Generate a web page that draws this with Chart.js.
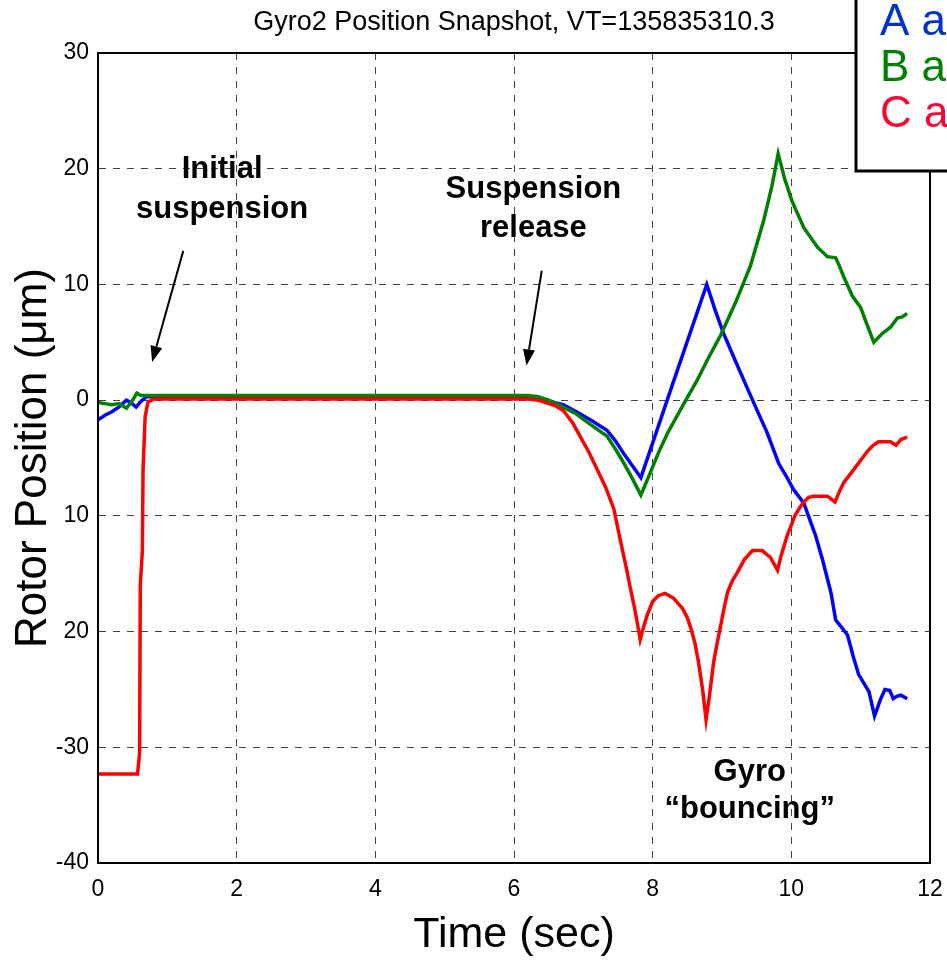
<!DOCTYPE html>
<html lang="en">
<head>
    <meta charset="UTF-8">
    <title>Gyro2 Position Snapshot</title>
    <script src="https://cdn.jsdelivr.net/npm/chart.js"></script>
    <style>
        html, body { margin: 0; padding: 0; background: #fff; }
        #wrap { width: 947px; height: 961px; }
    </style>
</head>
<body>
    <div id="wrap"><canvas id="gyroChart" width="947" height="961"></canvas></div>
    <script>
        // values (time in sec, position in um)
        var timeA = [0, 0.1, 0.2, 0.3, 0.41, 0.47, 0.55, 0.62, 0.7, 6.2, 6.35, 6.5, 6.71, 6.9, 7.1, 7.34, 7.46,
                     7.58, 7.7, 7.83, 8.3, 8.78, 8.9, 9.02, 9.2, 9.36, 9.5, 9.65, 9.82, 9.92, 10.03, 10.18,
                     10.35, 10.45, 10.57, 10.64, 10.72, 10.81, 10.9, 10.97, 11.06, 11.12, 11.2, 11.29, 11.35,
                     11.42, 11.47, 11.52, 11.58, 11.67];
        var posA  = [-1.7, -1.3, -1.0, -0.6, 0, -0.2, -0.6, -0.1, 0.3, 0.3, 0.2, -0.1, -0.4, -1.0, -1.7, -2.6, -3.5,
                     -4.6, -5.6, -6.7, 1.6, 10, 7.8, 5.8, 3.3, 1.1, -0.8, -2.8, -5.5, -6.5, -7.7, -8.9,
                     -11.7, -13.8, -16.6, -19, -19.6, -20.3, -22.3, -23.7, -24.6, -25.2, -27.3, -25.8, -25,
                     -25.1, -25.8, -25.6, -25.5, -25.8];

        var timeB = [0, 0.1, 0.2, 0.3, 0.41, 0.5, 0.56, 0.62, 6.2, 6.35, 6.5, 6.71, 6.9, 7.1, 7.34, 7.46, 7.58,
                     7.7, 7.83, 7.95, 8.08, 8.21, 8.45, 8.64, 8.8, 8.98, 9.2, 9.41, 9.6, 9.72, 9.81, 9.9, 10.01,
                     10.18, 10.38, 10.52, 10.64, 10.7, 10.76, 10.88, 11.0, 11.1, 11.19, 11.3, 11.43, 11.53,
                     11.6, 11.67];
        var posB  = [-0.2, -0.3, -0.4, -0.3, -0.7, 0, 0.6, 0.4, 0.4, 0.3, 0, -0.6, -1.2, -2.1, -3.1, -4.2, -5.4,
                     -6.7, -8.2, -6.5, -4.6, -2.9, -0.3, 1.7, 3.6, 5.6, 8.5, 11.6, 15.5, 18.5, 21.3, 19.2, 17.2,
                     14.9, 13.2, 12.4, 12.3, 11.5, 10.6, 9.0, 8.0, 6.4, 5.0, 5.7, 6.3, 7.1,
                     7.2, 7.5];

        var timeC = [0, 0.57, 0.6, 0.61, 0.64, 0.65, 0.68, 0.72, 0.8, 6.2, 6.35, 6.5, 6.6, 6.71, 6.85, 6.96,
                     7.08, 7.2, 7.32, 7.44, 7.53, 7.62, 7.68, 7.74, 7.78, 7.82, 7.86, 7.92, 8.0, 8.08, 8.18,
                     8.3, 8.43, 8.5, 8.55, 8.61, 8.66, 8.72, 8.77, 8.82, 8.88, 8.93, 8.98, 9.03, 9.08, 9.15,
                     9.22, 9.32, 9.44, 9.58, 9.7, 9.8, 9.85, 9.9, 9.94, 10.0, 10.05, 10.12, 10.18, 10.25,
                     10.32, 10.52, 10.63, 10.7, 10.76, 10.9, 11.0, 11.1, 11.18, 11.26, 11.43, 11.51, 11.58,
                     11.67];
        var posC  = [-32.3, -32.3, -30.5, -16, -13, -6, -1.4, -0.2, 0.1, 0.1, 0, -0.3, -0.5, -0.9, -2.0, -3.2,
                     -4.5, -6, -7.5, -9.4, -12, -14.5, -16.3, -18, -19.3, -20.7, -19.8, -18.6, -17.4, -16.9, -16.7,
                     -17.1, -18, -18.8, -19.7, -21, -22.6, -25, -27.6, -25.5, -22.6, -21, -19.5, -18, -16.6, -15.6,
                     -14.9, -13.8, -13.0, -13.0, -13.6, -14.7, -13.5, -12.5, -11.7, -10.8, -10, -9.3, -8.8, -8.4,
                     -8.3, -8.3, -8.8, -7.8, -7.1, -6.0, -5.2, -4.4, -3.9, -3.6, -3.6, -3.9, -3.4,
                     -3.2];

        var seriesNames = ['A a', 'B a', 'C a'];
        var yTickLabels = ['-40', '-30', '20', '10', '0', '10', '20', '30'];   // as printed on the original
        var xTicks = [0, 2, 4, 6, 8, 10, 12];

        function pts(t, v) {
            return t.map(function(x, i) { return { x: x, y: v[i] }; });
        }

        var FONT = "'Liberation Sans', Arial, Helvetica, sans-serif";

        // text notes placed in data coordinates
        var notes = [
            { lines: ['Initial', 'suspension'], x: 1.79, y: [19.9, 16.5], arrow: [1.23, 12.9, 0.78, 3.3] },
            { lines: ['Suspension', 'release'], x: 6.28, y: [18.2, 14.8], arrow: [6.40, 11.2, 6.18, 3.0] },
            { lines: ['Gyro', '\u201Cbouncing\u201D'], x: 9.4, y: [-32.2, -35.4], arrow: null }
        ];

        var decorPlugin = {
            id: 'decor',
            afterDraw: function(chart) {
                var ctx = chart.ctx, a = chart.chartArea;
                var xs = chart.scales.x, ys = chart.scales.y;
                ctx.save();
                // axes box
                ctx.strokeStyle = '#000';
                ctx.lineWidth = 2;
                ctx.strokeRect(a.left, a.top, a.right - a.left, a.bottom - a.top);

                // title
                ctx.fillStyle = '#000';
                ctx.font = '27px ' + FONT;
                ctx.textAlign = 'center';
                ctx.textBaseline = 'middle';
                ctx.fillText('Gyro2 Position Snapshot, VT=135835310.3', (a.left + a.right) / 2, 23, 525);

                // notes and arrows
                ctx.font = 'bold 31px ' + FONT;
                notes.forEach(function(n) {
                    n.lines.forEach(function(s, i) {
                        ctx.fillText(s, xs.getPixelForValue(n.x), ys.getPixelForValue(n.y[i]));
                    });
                    if (n.arrow) {
                        var x0 = xs.getPixelForValue(n.arrow[0]), y0 = ys.getPixelForValue(n.arrow[1]);
                        var x1 = xs.getPixelForValue(n.arrow[2]), y1 = ys.getPixelForValue(n.arrow[3]);
                        var ang = Math.atan2(y1 - y0, x1 - x0);
                        var hl = 16, hw = 6;
                        var bx = x1 - hl * Math.cos(ang), by = y1 - hl * Math.sin(ang);
                        ctx.lineWidth = 2;
                        ctx.beginPath();
                        ctx.moveTo(x0, y0);
                        ctx.lineTo(bx, by);
                        ctx.stroke();
                        ctx.beginPath();
                        ctx.moveTo(x1, y1);
                        ctx.lineTo(bx + hw * Math.sin(ang), by - hw * Math.cos(ang));
                        ctx.lineTo(bx - hw * Math.sin(ang), by + hw * Math.cos(ang));
                        ctx.closePath();
                        ctx.fill();
                    }
                });

                // legend box (runs off the right edge like the original)
                ctx.fillStyle = '#fff';
                ctx.fillRect(856, -5, 120, 176);
                ctx.strokeStyle = '#000';
                ctx.lineWidth = 3;
                ctx.strokeRect(856, -5, 120, 176);
                ctx.font = '44px ' + FONT;
                ctx.textAlign = 'left';
                var legendColors = ['#0033cc', '#008000', '#ff0033'];
                chart.data.datasets.forEach(function(ds, i) {
                    ctx.fillStyle = legendColors[i];
                    ctx.fillText(ds.label, 880, 23 + i * 46);
                });
                ctx.restore();
            }
        };

        var ctx = document.getElementById('gyroChart').getContext('2d');
        var gyroChart = new Chart(ctx, {
            type: 'line',
            data: {
                datasets: [
                    { label: seriesNames[0], data: pts(timeA, posA), borderColor: '#0000ff', order: 2 },
                    { label: seriesNames[1], data: pts(timeB, posB), borderColor: '#008000', order: 1 },
                    { label: seriesNames[2], data: pts(timeC, posC), borderColor: '#ff0000', order: 0 }
                ]
            },
            options: {
                responsive: false,
                animation: false,
                layout: { padding: { top: 53, right: 17, left: 0, bottom: 0 } },
                elements: {
                    line: { borderWidth: 3.5, tension: 0 },
                    point: { radius: 0 }
                },
                plugins: {
                    legend: { display: false },
                    title: { display: false },
                    tooltip: { enabled: false }
                },
                scales: {
                    x: {
                        type: 'linear',
                        min: 0,
                        max: 12,
                        afterFit: function(s) {
                            s.height = 98;
                            s.paddingLeft = 0;   // keep the plot box at a fixed width
                            s.paddingRight = 0;
                        },
                        afterBuildTicks: function(s) { s.ticks = xTicks.map(function(v) { return { value: v }; }); },
                        grid: { color: '#444', lineWidth: 1, drawTicks: false },
                        border: { color: '#000', width: 2, dash: [7, 7] },
                        ticks: { color: '#000', padding: 13, font: { family: FONT, size: 23 } },
                        title: {
                            display: true,
                            text: 'Time (sec)',
                            color: '#000',
                            font: { family: FONT, size: 43 },
                            padding: { top: 0, bottom: 0 }
                        }
                    },
                    y: {
                        min: -40,
                        max: 30,
                        afterFit: function(s) {
                            s.width = 98;
                            s.paddingTop = 0;
                            s.paddingBottom = 0;
                        },
                        grid: { color: '#444', lineWidth: 1, drawTicks: false },
                        border: { color: '#000', width: 2, dash: [7, 7] },
                        ticks: {
                            stepSize: 10,
                            color: '#000',
                            padding: 9,
                            font: { family: FONT, size: 23 },
                            callback: function(v) { return yTickLabels[Math.round((v + 40) / 10)]; }
                        },
                        title: {
                            display: true,
                            text: 'Rotor Position (\u03BCm)',
                            color: '#000',
                            font: { family: FONT, size: 44 },
                            padding: { top: 7, bottom: 0 }
                        }
                    }
                }
            },
            plugins: [decorPlugin]
        });
    </script>
</body>
</html>
